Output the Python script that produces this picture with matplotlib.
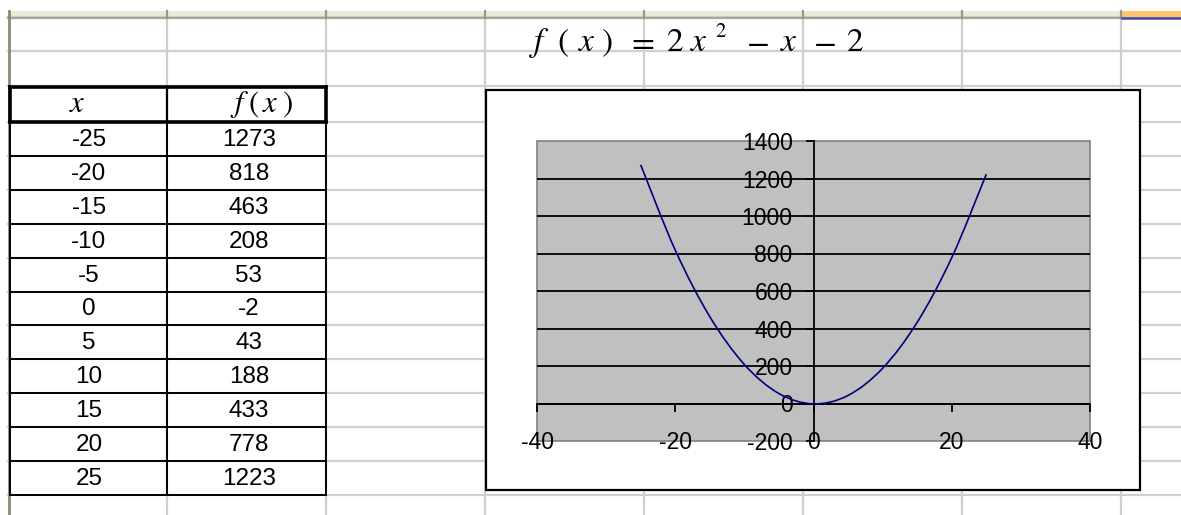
import matplotlib
matplotlib.use("Agg")
import matplotlib.pyplot as plt
from matplotlib.patches import Rectangle, PathPatch
from matplotlib.path import Path
from matplotlib import font_manager

# Table values: x and f(x) = 2x^2 - x - 2
x_vals = [-25, -20, -15, -10, -5, 0, 5, 10, 15, 20, 25]
f_vals = [1273, 818, 463, 208, 53, -2, 43, 188, 433, 778, 1223]
x_ticks = [-40, -20, 0, 20, 40]
y_ticks = [-200, 0, 200, 400, 600, 800, 1000, 1200, 1400]

# formula pieces (equation-editor style, each placed at its own x centre)
title_tokens = [(r"$f$", 540), (r"$($", 563), (r"$x$", 587), (r"$)$", 607),
                (r"$=$", 641), (r"$2$", 675), (r"$x$", 699), (r"$-$", 757),
                (r"$x$", 789), (r"$-$", 824), (r"$2$", 855)]
title_sup = (r"$2$", 721)
head_x_tokens = [(r"$x$", 77)]
head_f_tokens = [(r"$f$", 240), (r"$($", 254), (r"$x$", 270), (r"$)$", 287)]

W, H = 1181, 515
DPI = 100
plt.rcParams["mathtext.fontset"] = "stix"

names = {f.name for f in font_manager.fontManager.ttflist}
narrow = "Liberation Sans Narrow" in names
num_family = ["Liberation Sans Narrow"] if narrow else ["Liberation Sans"]
tbl_size = 20.5 if narrow else 17.5
tick_size = 19 if narrow else 16.5
plt.rcParams["font.family"] = num_family + ["DejaVu Sans"]

fig = plt.figure(figsize=(W / DPI, H / DPI), dpi=DPI)
fig.patch.set_facecolor("white")

# ---- spreadsheet background, drawn in pixel units ----
bg = fig.add_axes([0, 0, 1, 1])
bg.set_xlim(0, W)
bg.set_ylim(H, 0)
bg.axis("off")

col_edges = [8.5, 167, 326, 485, 644, 803, 962, 1121]
row_edges = [17, 51, 86] + [122 + 33.9 * i for i in range(12)]
grid_c = "#cfcfcf"

# column header band
bg.add_patch(Rectangle((8, 11), W - 8, 6.5, facecolor="#ece9d8", edgecolor="none", zorder=1))
bg.add_patch(Rectangle((1122, 11), W - 1122, 6.5, facecolor="#ffc46e", edgecolor="none", zorder=1.5))
bg.plot([8, W], [17.8, 17.8], color="#aca899", lw=1.6, zorder=2)
bg.plot([1122, W], [18.2, 18.2], color="#4a4aa8", lw=1.8, zorder=2.5)
for cx in col_edges[1:]:
    bg.plot([cx, cx], [11, 17.5], color="#9c9886", lw=1.6, zorder=2)

# cell gridlines
for cx in col_edges[1:]:
    bg.plot([cx, cx], [18, H], color=grid_c, lw=1.6, zorder=1)
for ry in row_edges + [H + 20]:
    bg.plot([8, W], [ry, ry], color=grid_c, lw=1.6, zorder=1)

# row header edge
bg.plot([8.5, 8.5], [11, H], color="#8a8a76", lw=2.0, zorder=3)

# table borders
t_left, t_mid, t_right = 9.8, 167, 325.5
t_top, t_head = 86.5, 122
t_bot = row_edges[-1]
for ry in row_edges[3:]:
    bg.plot([t_left, t_right], [ry, ry], color="black", lw=1.4, zorder=4)
bg.plot([t_left, t_right], [t_top, t_top], color="black", lw=2.6, zorder=4)
bg.plot([t_left, t_right], [t_head, t_head], color="black", lw=2.6, zorder=4)
bg.plot([t_left, t_left], [t_top, t_head], color="black", lw=2.6, zorder=4)
bg.plot([t_right, t_right], [t_top, t_head], color="black", lw=2.6, zorder=4)
bg.plot([t_mid, t_mid], [t_top, t_head], color="black", lw=1.6, zorder=4)
for cx in (t_left, t_mid, t_right):
    bg.plot([cx, cx], [t_head, t_bot], color="black", lw=1.4, zorder=4)

# table header (italic equation style)
for tok, cx in head_x_tokens + head_f_tokens:
    bg.text(cx, 112, tok, fontsize=22, ha="center", va="baseline", zorder=5)

# table values
col_centers = [89, 249]
for i, (xv, fv) in enumerate(zip(x_vals, f_vals)):
    yc = (row_edges[3 + i] + row_edges[4 + i]) / 2 + 1
    bg.text(col_centers[0], yc, f"{xv}", fontsize=tbl_size, ha="center",
            va="center", zorder=5)
    bg.text(col_centers[1], yc, f"{fv}", fontsize=tbl_size, ha="center",
            va="center", zorder=5)

# formula title
for tok, cx in title_tokens:
    bg.text(cx, 51, tok, fontsize=24, ha="center", va="baseline", zorder=5)
bg.text(title_sup[1], 37, title_sup[0], fontsize=15, ha="center",
        va="baseline", zorder=5)

# chart area
bg.add_patch(Rectangle((485.5, 89.5), 654.5, 400.5, facecolor="white",
                       edgecolor="black", lw=1.6, zorder=6))

# ---- chart plot area ----
px_l, px_r, px_t, px_b = 537, 1090, 141, 441
ax = fig.add_axes([px_l / W, 1 - px_b / H, (px_r - px_l) / W, (px_b - px_t) / H],
                  zorder=10)
ax.set_facecolor("#c0c0c0")
ax.set_xlim(x_ticks[0], x_ticks[-1])
ax.set_ylim(y_ticks[0], y_ticks[-1])

for s in ("top", "right"):
    ax.spines[s].set_visible(False)
ax.spines["left"].set_position(("data", 0))
ax.spines["bottom"].set_position(("data", 0))
for s in ("left", "bottom"):
    ax.spines[s].set_color("black")
    ax.spines[s].set_linewidth(1.3)
    ax.spines[s].set_zorder(4)

# plot-area border
ax.add_patch(Rectangle((0, 0), 1, 1, transform=ax.transAxes, facecolor="none",
                       edgecolor="#808080", lw=1.2, zorder=1, clip_on=False))

# horizontal major gridlines
for yt in y_ticks[1:-1]:
    ax.axhline(yt, color="black", lw=1.3, zorder=2)

ax.set_xticks(x_ticks)
ax.set_yticks(y_ticks)
ax.set_xticklabels([str(v) for v in x_ticks])
ax.set_yticklabels([str(v) for v in y_ticks])
ax.tick_params(axis="x", direction="out", length=6, width=1.3, pad=14,
               labelsize=tick_size, colors="black")
ax.tick_params(axis="y", direction="out", length=6, width=1.3, pad=9,
               labelsize=tick_size, colors="black")
for lbl in ax.get_xticklabels() + ax.get_yticklabels():
    lbl.set_clip_on(False)

# smoothed line through the table points (Catmull-Rom style Bezier)
pts = list(zip(x_vals, f_vals))
verts = [pts[0]]
codes = [Path.MOVETO]
n = len(pts)
for i in range(n - 1):
    p0 = pts[i - 1] if i > 0 else pts[i]
    p1 = pts[i]
    p2 = pts[i + 1]
    p3 = pts[i + 2] if i + 2 < n else pts[i + 1]
    c1 = (p1[0] + (p2[0] - p0[0]) / 6, p1[1] + (p2[1] - p0[1]) / 6)
    c2 = (p2[0] - (p3[0] - p1[0]) / 6, p2[1] - (p3[1] - p1[1]) / 6)
    verts += [c1, c2, p2]
    codes += [Path.CURVE4] * 3
ax.add_patch(PathPatch(Path(verts, codes), facecolor="none", edgecolor="#000080",
                       lw=1.2, zorder=5))

fig.savefig("out.png", dpi=DPI, facecolor="white")
